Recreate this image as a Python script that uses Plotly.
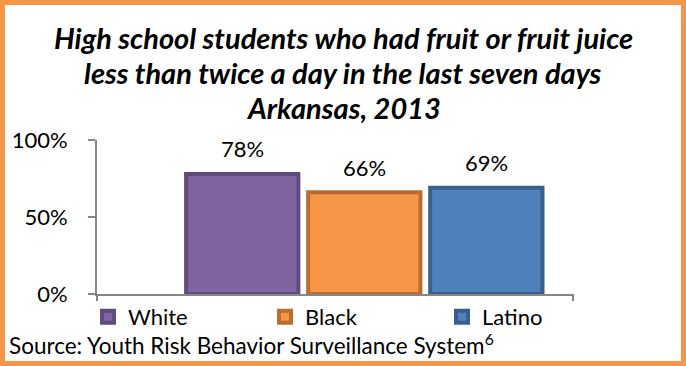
import plotly.graph_objects as go

# ---- data ----
categories = ["White", "Black", "Latino"]
values = [78, 66, 69]
value_labels = ["78%", "66%", "69%"]
fill_colors = ["#8064A2", "#F79646", "#4F81BD"]
line_colors = ["#5F4B7D", "#B86D32", "#3A5F8C"]
y_tick_vals = [0, 50, 100]
y_tick_text = ["0%", "50%", "100%"]
title_lines = ["High school students who had fruit or fruit juice",
               "less than twice a day in the last seven days",
               "Arkansas, 2013"]
source_text = "Source: Youth Risk Behavior Surveillance System<sup>6</sup>"

W, H = 686, 366
ML, MR, MT, MB = 97, 113, 140, 72
PW, PH = W - ML - MR, H - MT - MB
FONT = "Lato"
AXIS_GRAY = "#868686"

fig = go.Figure()
for cat, val, fc, lc in zip(categories, values, fill_colors, line_colors):
    fig.add_trace(go.Bar(x=[cat], y=[val], name=cat,
                         marker=dict(color=fc, line=dict(color=lc, width=4))))

for cat, val, lab in zip(categories, values, value_labels):
    fig.add_annotation(x=cat, y=val, text=lab, showarrow=False, yanchor="middle",
                       yshift=25, font=dict(family=FONT, size=22, color="black"))

# title lines
title_y = [37, 72, 108]
for txt, py in zip(title_lines, title_y):
    fig.add_annotation(xref="paper", yref="paper", x=(W / 2 - ML) / PW,
                       y=(H - MB - py) / PH, text="<b><i>" + txt + "</i></b>",
                       showarrow=False, xanchor="center", yanchor="middle",
                       font=dict(family=FONT, size=29, color="black"))

fig.add_annotation(xref="paper", yref="paper", x=(7 - ML) / PW, y=(H - MB - 344) / PH,
                   text=source_text, showarrow=False, xanchor="left", yanchor="middle",
                   font=dict(family=FONT, size=22.5, color="black"))

# end ticks on x axis
for xd in (0, 1):
    fig.add_shape(type="line", xref="x domain", yref="y domain", x0=xd, x1=xd,
                  ysizemode="pixel", yanchor=0, y0=0, y1=-7,
                  line=dict(color=AXIS_GRAY, width=2))

# orange frame
fig.add_shape(type="rect", xref="paper", yref="paper",
              x0=(2.5 - ML) / PW, x1=(W - 2.5 - ML) / PW,
              y0=(H - MB - (H - 2.5)) / PH, y1=(H - MB - 2.5) / PH,
              line=dict(color="#F79646", width=5), fillcolor="rgba(0,0,0,0)", layer="above")

fig.update_layout(
    width=W, height=H, margin=dict(l=ML, r=MR, t=MT, b=MB, autoexpand=False),
    paper_bgcolor="white", plot_bgcolor="white",
    barmode="overlay", bargap=0.08,
    showlegend=True,
    legend=dict(orientation="h", xref="paper", yref="paper",
                x=(88 - ML) / PW, y=(H - MB - 317) / PH, xanchor="left", yanchor="middle",
                entrywidth=132, entrywidthmode="pixels", bgcolor="rgba(0,0,0,0)",
                font=dict(family=FONT, size=22, color="black"), traceorder="normal"),
    font=dict(family=FONT, color="black"),
)
fig.update_xaxes(type="category", categoryorder="array", categoryarray=categories,
                 range=[-1.19, 2.71], showticklabels=False, ticks="",
                 showline=True, linecolor=AXIS_GRAY, linewidth=2, showgrid=False,
                 zeroline=False, fixedrange=True)
fig.update_yaxes(range=[0, 100], tickvals=y_tick_vals, ticktext=y_tick_text,
                 ticks="outside", ticklen=7, tickwidth=2, tickcolor=AXIS_GRAY,
                 showline=True, linecolor=AXIS_GRAY, linewidth=2, showgrid=False,
                 zeroline=False, ticklabelstandoff=16,
                 tickfont=dict(family=FONT, size=22, color="black"))

fig.write_html("out.html")
